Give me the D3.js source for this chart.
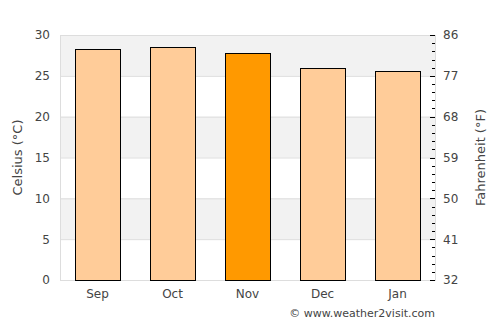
<!DOCTYPE html>
<html>
<head>
<meta charset="utf-8">
<script src="https://cdn.jsdelivr.net/npm/d3@7"></script>
<style>
  body { margin: 0; background: #fff; }
  text { font-family: "DejaVu Sans", sans-serif; fill: #444; }
</style>
</head>
<body>
<svg id="chart" width="500" height="325"></svg>
<script>
// data
const months = ["Sep", "Oct", "Nov", "Dec", "Jan"];
const celsius = [28.3, 28.5, 27.8, 26.0, 25.6];
const highlight = "Nov";
const cTicks = [0, 5, 10, 15, 20, 25, 30];
const fTicks = [32, 41, 50, 59, 68, 77, 86];

const margin = { top: 35, right: 65, bottom: 45, left: 60 };
const width = 500, height = 325;
const plotW = width - margin.left - margin.right;
const plotH = height - margin.top - margin.bottom;

const svg = d3.select("#chart");
const plot = svg.append("g")
  .attr("transform", "translate(" + margin.left + "," + margin.top + ")");

/* SCALES */
const x = d3.scaleBand().domain(months).range([0, plotW]).padding(0);
const y = d3.scaleLinear().domain([0, 30]).range([plotH, 0]);
const yF = d3.scaleLinear().domain([32, 86]).range([plotH, 0]);

/* BACKGROUND BANDS */
for (let i = 0; i < cTicks.length - 1; i++) {
  if (i % 2 === 1) {
    plot.append("rect")
      .attr("x", 0)
      .attr("y", y(cTicks[i + 1]))
      .attr("width", plotW)
      .attr("height", y(cTicks[i]) - y(cTicks[i + 1]))
      .style("fill", "#f2f2f2");
  }
}

// grid lines
plot.append("g")
  .selectAll("line")
  .data(cTicks)
  .enter()
  .append("line")
    .attr("x1", 0)
    .attr("x2", plotW)
    .attr("y1", d => y(d) + 0.5)
    .attr("y2", d => y(d) + 0.5)
    .style("stroke", "#dddddd");

// frame
plot.append("rect")
  .attr("x", 0.5).attr("y", 0.5)
  .attr("width", plotW).attr("height", plotH)
  .style("fill", "none")
  .style("stroke", "#dddddd");

/* BARS */
const barW = x.bandwidth() * 0.6;
plot.append("g")
  .selectAll("rect")
  .data(months.map((m, i) => [m, celsius[i]]))
  .enter()
  .append("rect")
    .attr("x", d => Math.round(x(d[0]) + (x.bandwidth() - barW) / 2) + 0.5)
    .attr("y", d => Math.round(y(d[1])) + 0.5)
    .attr("width", barW)
    .attr("height", d => Math.round(plotH - y(d[1])))
    .style("fill", d => d[0] === highlight ? "#ff9900" : "#ffcc99")
    .style("stroke", "#000")
    .style("stroke-width", 1);

/* AXES */
const yAxis = d3.axisLeft(y).tickValues(cTicks).tickSize(0).tickPadding(10);
const leftG = plot.append("g").call(yAxis);
leftG.select(".domain").remove();
leftG.selectAll("text").style("font-size", "12px").style("font-family", null);

const xAxis = d3.axisBottom(x).tickSize(0).tickPadding(9);
const bottomG = plot.append("g")
  .attr("transform", "translate(0," + plotH + ")")
  .call(xAxis);
bottomG.select(".domain").remove();
bottomG.selectAll("text").style("font-size", "12px").style("font-family", null);

// right axis: minor ticks every 1.8 °F, labels every 9 °F
const minor = d3.range(0, 31).map(c => 32 + c * 1.8);
plot.append("g")
  .selectAll("line")
  .data(minor)
  .enter()
  .append("line")
    .attr("x1", d => plotW - ((Math.round((d - 32) / 1.8) % 5 === 0) ? 5 : 3))
    .attr("x2", plotW)
    .attr("y1", d => Math.round(yF(d)) + 0.5)
    .attr("y2", d => Math.round(yF(d)) + 0.5)
    .style("stroke", "#000");

const rightAxis = d3.axisRight(yF).tickValues(fTicks).tickSize(0).tickPadding(8);
const rightG = plot.append("g")
  .attr("transform", "translate(" + plotW + ",0)")
  .call(rightAxis);
rightG.select(".domain").remove();
rightG.selectAll("text").style("font-size", "12px").style("font-family", null);

/* AXIS TITLES */
svg.append("text")
  .attr("transform", "translate(22," + (margin.top + plotH / 2) + ") rotate(-90)")
  .attr("text-anchor", "middle")
  .style("font-size", "13px")
  .text("Celsius (°C)");

svg.append("text")
  .attr("transform", "translate(485," + (margin.top + plotH / 2) + ") rotate(-90)")
  .attr("text-anchor", "middle")
  .style("font-size", "13px")
  .text("Fahrenheit (°F)");

svg.append("text")
  .attr("x", margin.left + plotW)
  .attr("y", 317)
  .attr("text-anchor", "end")
  .style("font-size", "11px")
  .text("© www.weather2visit.com");
</script>
</body>
</html>
